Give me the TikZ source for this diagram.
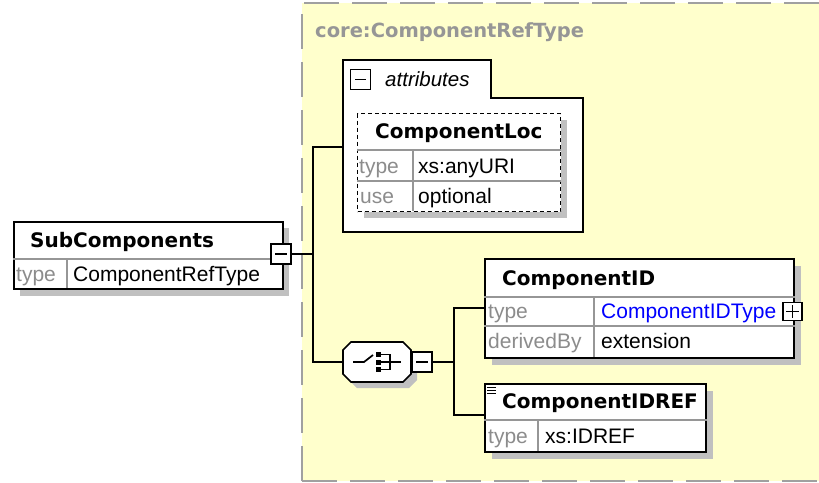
\documentclass[tikz,border=0pt]{standalone}
\usepackage{fontspec}
\setmainfont{Liberation Sans}
\newfontfamily\dvs{DejaVu Sans}
\definecolor{bgyellow}{RGB}{255,255,204}
\definecolor{dashgrey}{RGB}{160,160,160}
\definecolor{shadowgrey}{RGB}{192,192,192}
\definecolor{labelgrey}{RGB}{140,140,140}
\definecolor{rulegrey}{RGB}{150,150,150}
\definecolor{titlegrey}{RGB}{150,150,150}
\definecolor{linkblue}{RGB}{0,0,255}
\tikzset{
  x=1pt, y=-1pt,
  box/.style={draw=black, line width=1.7pt, fill=white, rectangle, inner sep=0pt, anchor=north west},
  dbox/.style={draw=black, line width=1.4pt, dash pattern=on 4pt off 3pt, fill=white, rectangle, inner sep=0pt, anchor=north west},
  rowrule/.style={draw=rulegrey, line width=1.2pt},
  namet/.style={inner sep=0pt, anchor=base west, font=\dvs\bfseries\fontsize{20}{24}\selectfont},
  lblt/.style={inner sep=0pt, anchor=base west, text=labelgrey, font=\fontsize{21}{24}\selectfont},
  valt/.style={inner sep=0pt, anchor=base west, font=\fontsize{21}{24}\selectfont},
  conn/.style={draw=black, line width=1.7pt},
  pmbox/.style={draw=black, line width=1.8pt, fill=white, rectangle, inner sep=0pt, minimum width=20pt, minimum height=20pt},
  pmline/.style={line width=1.8pt},
}
\begin{document}
\begin{tikzpicture}
\useasboundingbox (0,0) rectangle (819,482);
% background region
\fill[bgyellow] (302,3) rectangle (819,481);
\draw[dashgrey, line width=2pt, dash pattern=on 35pt off 13pt] (302,481) -- (302,3) -- (819,3);
\draw[dashgrey, line width=2pt, dash pattern=on 35pt off 13pt] (302,481) -- (819,481);
\node[inner sep=0pt, anchor=base west, text=titlegrey, font=\dvs\bfseries\fontsize{19.5}{24}\selectfont] (title) at (315,37) {core:ComponentRefType};

% SubComponents
\fill[shadowgrey] (20,228) rectangle (289,296);
\node[box, minimum width=269pt, minimum height=67pt] (sub) at (13,221) {};
\draw[rowrule] (sub.west |- 0,259) -- (sub.east |- 0,259);
\draw[rowrule] (67,259) -- (67,288);
\node[namet] (subname) at (30,247) {SubComponents};
\node[lblt] (subtypel) at (16,281) {type};
\node[valt] (subtypev) at (73,281) {ComponentRefType};
\node[pmbox] (subminus) at (281,254) {};
\draw[pmline] (275,254) -- (287,254);

% attributes group
\draw[line width=1.7pt, fill=white] (343,232) -- (343,60) -- (491,60) -- (491,98) -- (583,98) -- (583,232) -- cycle;
\coordinate (attrw) at (343,147);
\node[pmbox] (attrminus) at (360.5,79.5) {};
\draw[pmline] (355,79.5) -- (366,79.5);
\node[inner sep=0pt, anchor=base west, font=\itshape\fontsize{20.5}{24}\selectfont] (attrlbl) at (385,86) {attributes};

% ComponentLoc
\fill[shadowgrey] (364,120) rectangle (567,218);
\node[dbox, minimum width=203pt, minimum height=98pt] (loc) at (357,113) {};
\draw[rowrule] (loc.west |- 0,150) -- (loc.east |- 0,150);
\draw[rowrule] (loc.west |- 0,181) -- (loc.east |- 0,181);
\draw[rowrule] (413,150) -- (413,211);
\node[namet] (locname) at (375,138) {ComponentLoc};
\node[lblt] (loctl) at (359,173) {type};
\node[valt] (loctv) at (418,173) {xs:anyURI};
\node[lblt] (locul) at (360,203) {use};
\node[valt] (locuv) at (418,203) {optional};

% sequence compositor
\node[inner sep=0pt, minimum width=68pt, minimum height=40pt] (seq) at (377,362) {};
\fill[shadowgrey] (351+6,342+6) -- (403+6,342+6) -- (411+6,350+6) -- (411+6,374+6) -- (403+6,382+6) -- (351+6,382+6) -- (343+6,374+6) -- (343+6,350+6) -- cycle;
\draw[line width=1.7pt, fill=white] (351,342) -- (403,342) -- (411,350) -- (411,374) -- (403,382) -- (351,382) -- (343,374) -- (343,350) -- cycle;
\draw[line width=1.7pt] (353,362) -- (364,362) -- (373,355);
\fill[black] (376,352) rectangle (381,357);
\fill[black] (376,359.5) rectangle (381,364.5);
\fill[black] (376,367) rectangle (381,372);
\draw[line width=1.6pt] (381,354.5) -- (390,354.5) -- (390,369.5) -- (381,369.5);
\draw[line width=1.6pt] (381,362) -- (401,362);
\node[pmbox] (seqminus) at (422,362) {};
\draw[pmline] (416,362) -- (428,362);

% ComponentID
\fill[shadowgrey] (492,266) rectangle (801,365);
\node[box, minimum width=309pt, minimum height=99pt] (cid) at (484,258) {};
\draw[rowrule] (cid.west |- 0,297) -- (cid.east |- 0,297);
\draw[rowrule] (cid.west |- 0,326) -- (cid.east |- 0,326);
\draw[rowrule] (594,297) -- (594,357);
\node[namet] (cidname) at (502,285) {ComponentID};
\node[lblt] (cidtl) at (488,318) {type};
\node[valt, text=linkblue] (cidtv) at (601,318) {ComponentIDType};
\node[lblt] (cidol) at (488,348) {derivedBy};
\node[valt] (cidov) at (601,348) {extension};
\node[pmbox, minimum width=19pt, minimum height=18pt] (cidplus) at (792.5,311.5) {};
\draw[pmline] (786,311.5) -- (799,311.5);
\draw[pmline] (792.5,305) -- (792.5,318);

% ComponentIDREF
\fill[shadowgrey] (492,391) rectangle (713,459);
\node[box, minimum width=221pt, minimum height=68pt] (cref) at (484,383) {};
\draw[rowrule] (cref.west |- 0,420) -- (cref.east |- 0,420);
\draw[rowrule] (538,420) -- (538,451);
\draw[line width=1pt] (487,387) -- (496,387);
\draw[line width=1pt] (487,390) -- (496,390);
\draw[line width=1pt] (487,393) -- (496,393);
\node[namet] (crefname) at (502,408) {ComponentIDREF};
\node[lblt] (creftl) at (488,443) {type};
\node[valt] (creftv) at (545,443) {xs:IDREF};

% connectors
\coordinate (jA) at (313,147);
\coordinate (jB) at (313,362);
\coordinate (jC) at (454,308);
\coordinate (jD) at (454,415);
\draw[conn] (subminus.east) -- (subminus.east -| jA);
\draw[conn] (attrw) -- (jA) -- (jB) -- (seq.west);
\draw[conn] (seqminus.east) -- (seqminus.east -| jC);
\draw[conn] (cid.west |- jC) -- (jC) -- (jD) -- (cref.west |- jD);
\end{tikzpicture}
\end{document}
